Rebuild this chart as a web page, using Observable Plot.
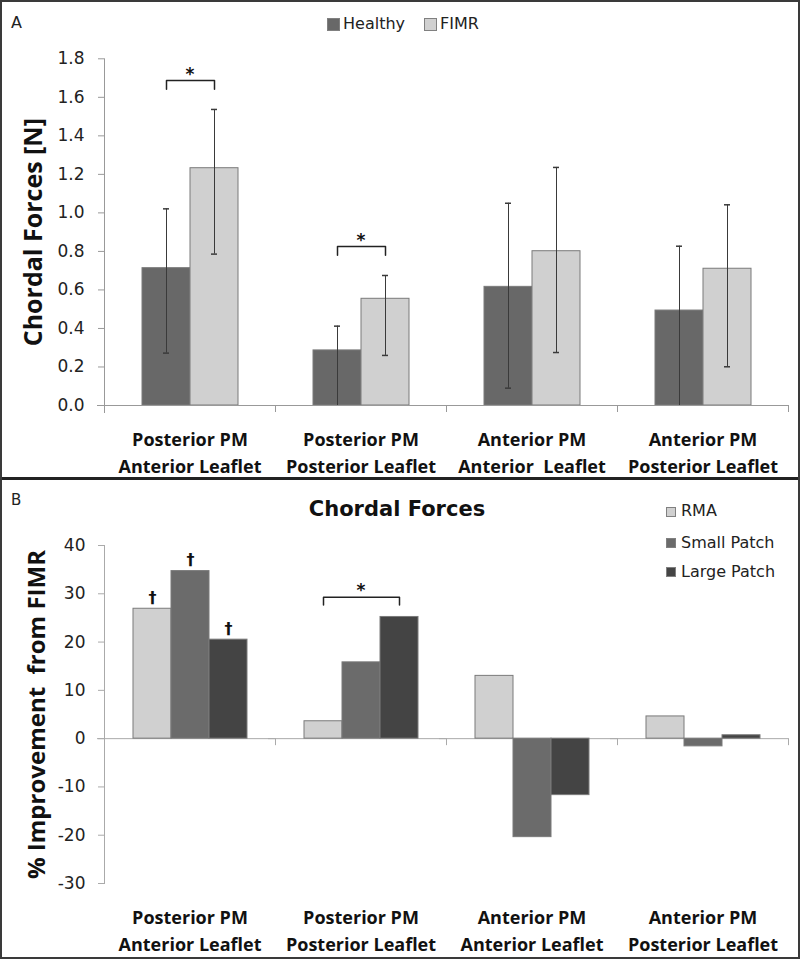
<!DOCTYPE html>
<html><head><meta charset="utf-8">
<script src="https://cdn.jsdelivr.net/npm/d3@7"></script>
<script src="https://cdn.jsdelivr.net/npm/@observablehq/plot@0.6"></script>
<style>
body{margin:0;background:#fff;}
#fig{position:relative;width:800px;height:959px;overflow:hidden;background:#fff;font-family:"DejaVu Sans";color:#222;}
.abs{position:absolute;}
.border{position:absolute;left:0;top:0;width:800px;height:959px;box-sizing:border-box;border:2px solid #3a3a3a;pointer-events:none;}
.divider{position:absolute;left:0;top:477px;width:800px;height:3px;background:#222;}
.sw{position:absolute;box-sizing:border-box;border:1px solid #808080;}
.lt{position:absolute;font-size:16px;line-height:1;white-space:nowrap;color:#222;}
</style></head>
<body>
<div id="fig">
  <div id="A" class="abs" style="left:0;top:0"></div>
  <div id="B" class="abs" style="left:0;top:480px"></div>
  <div class="lt" style="left:11px;top:15px;font-size:16px">A</div>
  <div class="lt" style="left:11px;top:493px;font-size:15px">B</div>
  <div id="legA"></div>
  <div class="lt" style="left:297px;top:499px;width:200px;text-align:center;font-size:21px;font-weight:bold;color:#111">Chordal Forces</div>
  <div id="legB"></div>
  <div class="divider"></div>
  <div class="border"></div>
</div>
<script>
// ---------- data ----------
const categories = ["PPM-AL", "PPM-PL", "APM-AL", "APM-PL"];
const labelsA = ["Posterior PM\nAnterior Leaflet", "Posterior PM\nPosterior Leaflet", "Anterior PM\nAnterior\u00A0 Leaflet", "Anterior PM\nPosterior Leaflet"];
const labelsB = ["Posterior PM\nAnterior Leaflet", "Posterior PM\nPosterior Leaflet", "Anterior PM\nAnterior Leaflet", "Anterior PM\nPosterior Leaflet"];

const seriesA = ["Healthy", "FIMR"];
const healthyMean = [0.713, 0.286, 0.616, 0.493];
const healthyHi   = [1.021, 0.412, 1.050, 0.827];
const healthyLo   = [0.272, 0.0,   0.090, 0.0];
const fimrMean    = [1.232, 0.554, 0.801, 0.710];
const fimrHi      = [1.537, 0.675, 1.236, 1.042];
const fimrLo      = [0.786, 0.260, 0.275, 0.201];
const yTicksA = [0, 0.2, 0.4, 0.6, 0.8, 1.0, 1.2, 1.4, 1.6, 1.8];
const sigA = [0, 1]; // categories with Healthy vs FIMR significance

const seriesB = ["RMA", "Small Patch", "Large Patch"];
const rma   = [26.9, 3.6, 13.0, 4.6];
const small = [34.7, 15.8, -20.4, -1.6];
const large = [20.5, 25.2, -11.7, 0.7];
const yTicksB = [-30, -20, -10, 0, 10, 20, 30, 40];
const sigB = [1];       // RMA vs Large Patch
const daggerCatB = [0]; // all three bars significant

// ---------- layout ----------
const W = 800;
const fontTick = "DejaVu Sans";
const fontLabel = "Open Sans";
const colA = ["#686868", "#d0d0d0"];
const colB = ["#d0d0d0", "#6b6b6b", "#444444"];

// ---------- Panel A ----------
const mA = {top: 58.3, bottom: 73, left: 104, right: 12};
const hA = 478;
const catW = (W - mA.left - mA.right) / categories.length;
const padA = 0.745;
const barWA = catW / (seriesA.length + 2 * padA);
const capInset = (barWA - 7) / 2;

const dataA = [];
categories.forEach((c, i) => {
  dataA.push({cat: c, series: "Healthy", value: healthyMean[i], lo: healthyLo[i], hi: healthyHi[i]});
  dataA.push({cat: c, series: "FIMR", value: fimrMean[i], lo: fimrLo[i], hi: fimrHi[i]});
});
const bracketA = [];
const starA = [];
sigA.forEach(i => {
  const top = Math.max(healthyHi[i], fimrHi[i]) + 0.15;
  const c = categories[i];
  bracketA.push({cat: c, series: "Healthy", y: top - 0.045});
  bracketA.push({cat: c, series: "Healthy", y: top});
  bracketA.push({cat: c, series: "FIMR", y: top});
  bracketA.push({cat: c, series: "FIMR", y: top - 0.045});
  starA.push({cat: c, y: top});
});

const plotA = Plot.plot({
  width: W, height: hA,
  marginTop: mA.top, marginBottom: mA.bottom, marginLeft: mA.left, marginRight: mA.right,
  style: {background: "transparent", fontFamily: fontTick, color: "#222"},
  fx: {domain: categories, padding: 0, label: null},
  x: {domain: seriesA, paddingInner: 0, paddingOuter: padA, axis: null},
  y: {domain: [0, 1.8], label: null},
  color: {domain: seriesA, range: colA},
  marks: [
    Plot.barY(dataA, {fx: "cat", x: "series", y: "value", fill: "series", stroke: "#7a7a7a", strokeWidth: 1}),
    Plot.ruleY([0], {stroke: "#999", insetLeft: -7}),
    Plot.frame({anchor: "left", facetAnchor: "left", stroke: "#999", insetBottom: -7}),
    Plot.ruleX(dataA, {fx: "cat", x: "series", y1: "lo", y2: "hi", stroke: "#3a3a3a", strokeWidth: 1}),
    Plot.tickY(dataA, {fx: "cat", x: "series", y: "hi", stroke: "#3a3a3a", strokeWidth: 1.5, insetLeft: capInset, insetRight: capInset}),
    Plot.tickY(dataA.filter(d => d.lo > 0), {fx: "cat", x: "series", y: "lo", stroke: "#3a3a3a", strokeWidth: 1.5, insetLeft: capInset, insetRight: capInset}),
    Plot.line(bracketA, {fx: "cat", x: "series", y: "y", z: "cat", stroke: "#222", strokeWidth: 1.5}),
    Plot.text(starA, {fx: "cat", y: "y", text: () => "*", frameAnchor: "middle", lineAnchor: "bottom", dy: -1, fontSize: 17, fontWeight: "bold", fill: "#111"}),
    Plot.axisY({ticks: yTicksA, tickFormat: d => d.toFixed(1), tickSize: 6, tickPadding: 14, stroke: "#999", fill: "#222", fontSize: 17, label: null}),
    Plot.axisFx({anchor: "bottom", tickSize: 7, dx: catW / 2, tickFormat: () => "", stroke: "#999", label: null}),
    Plot.axisFx({anchor: "bottom", tickSize: 0, tickPadding: 21, tickFormat: d => labelsA[categories.indexOf(d)], fontFamily: fontLabel, fontWeight: "bold", fontSize: 18, lineHeight: 1.5, fill: "#111", label: null}),
    Plot.text(["Chordal Forces [N]"], {frameAnchor: "left", facetAnchor: "left", rotate: -90, dx: -71, fontFamily: fontLabel, fontWeight: "bold", fontSize: 25, fill: "#111", textAnchor: "middle", lineAnchor: "middle"})
  ]
});
document.getElementById("A").appendChild(plotA);

// ---------- Panel B ----------
const mB = {top: 65, bottom: 76, left: 104, right: 12};
const hB = 479;
const yDomB = [-30, 40];
const padB = 0.75;
const plotHB = hB - mB.top - mB.bottom;
const dyZero = -plotHB * (0 - yDomB[0]) / (yDomB[1] - yDomB[0]);

const valuesB = [rma, small, large];
const dataB = [];
categories.forEach((c, i) => {
  seriesB.forEach((s, j) => dataB.push({cat: c, series: s, value: valuesB[j][i]}));
});
const bracketB = [];
const starB = [];
sigB.forEach(i => {
  const top = Math.max(rma[i], small[i], large[i]) + 4.1;
  const c = categories[i];
  bracketB.push({cat: c, series: "RMA", y: top - 1.6});
  bracketB.push({cat: c, series: "RMA", y: top});
  bracketB.push({cat: c, series: "Large Patch", y: top});
  bracketB.push({cat: c, series: "Large Patch", y: top - 1.6});
  starB.push({cat: c, y: top});
});
const daggersB = dataB.filter(d => daggerCatB.includes(categories.indexOf(d.cat)));

const plotB = Plot.plot({
  width: W, height: hB,
  marginTop: mB.top, marginBottom: mB.bottom, marginLeft: mB.left, marginRight: mB.right,
  style: {background: "transparent", fontFamily: fontTick, color: "#222"},
  fx: {domain: categories, padding: 0, label: null},
  x: {domain: seriesB, paddingInner: 0, paddingOuter: padB, axis: null},
  y: {domain: yDomB, label: null},
  color: {domain: seriesB, range: colB},
  marks: [
    Plot.ruleY([0], {stroke: "#aaa", insetLeft: -7}),
    Plot.frame({anchor: "left", facetAnchor: "left", stroke: "#aaa"}),
    Plot.barY(dataB, {fx: "cat", x: "series", y: "value", fill: "series", stroke: "#7a7a7a", strokeWidth: 1}),
    Plot.line(bracketB, {fx: "cat", x: "series", y: "y", z: "cat", stroke: "#222", strokeWidth: 1.5}),
    Plot.text(starB, {fx: "cat", y: "y", text: () => "*", frameAnchor: "middle", lineAnchor: "bottom", dy: -1, fontSize: 17, fontWeight: "bold", fill: "#111"}),
    Plot.text(daggersB, {fx: "cat", x: "series", y: "value", text: () => "\u2020", lineAnchor: "bottom", dy: -6, fontSize: 16, fontWeight: "bold", fill: "#111"}),
    Plot.axisY({ticks: yTicksB, tickFormat: d => String(d), tickSize: 6, tickPadding: 13, stroke: "#aaa", fill: "#222", fontSize: 17, label: null}),
    Plot.axisFx({anchor: "bottom", tickSize: 7, dx: catW / 2, dy: dyZero, tickFormat: () => "", stroke: "#aaa", label: null}),
    Plot.axisFx({anchor: "bottom", tickSize: 0, tickPadding: 21, tickFormat: d => labelsB[categories.indexOf(d)], fontFamily: fontLabel, fontWeight: "bold", fontSize: 18, lineHeight: 1.5, fill: "#111", label: null}),
    Plot.text(["% Improvement\u00A0 from FIMR"], {frameAnchor: "left", facetAnchor: "left", rotate: -90, dx: -67, fontFamily: fontLabel, fontWeight: "bold", fontSize: 24, fill: "#111", textAnchor: "middle", lineAnchor: "middle"})
  ]
});
document.getElementById("B").appendChild(plotB);

// ---------- legends ----------
function addLegend(id, items) {
  const el = document.getElementById(id);
  items.forEach(it => {
    const sw = document.createElement("div");
    sw.className = "sw";
    Object.assign(sw.style, {left: it.sx + "px", top: it.sy + "px", width: it.size + "px", height: it.size + "px", background: it.color});
    el.appendChild(sw);
    const t = document.createElement("div");
    t.className = "lt";
    t.textContent = it.label;
    Object.assign(t.style, {left: it.tx + "px", top: it.ty + "px"});
    el.appendChild(t);
  });
}
addLegend("legA", [
  {label: seriesA[0], color: colA[0], sx: 327, sy: 18, size: 13, tx: 343, ty: 16},
  {label: seriesA[1], color: colA[1], sx: 424, sy: 18, size: 13, tx: 440, ty: 16}
]);
addLegend("legB", [
  {label: seriesB[0], color: colB[0], sx: 666, sy: 507, size: 10, tx: 681, ty: 503},
  {label: seriesB[1], color: colB[1], sx: 666, sy: 538, size: 10, tx: 681, ty: 535},
  {label: seriesB[2], color: colB[2], sx: 666, sy: 567, size: 10, tx: 681, ty: 564}
]);
</script>
</body></html>
